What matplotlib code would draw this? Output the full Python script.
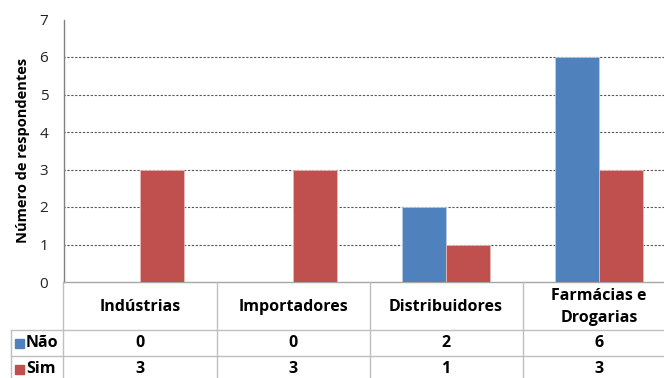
import matplotlib
matplotlib.use("Agg")
import matplotlib.pyplot as plt
import matplotlib.transforms as mtransforms
import numpy as np

categories = ["Indústrias", "Importadores", "Distribuidores", "Farmácias e\nDrogarias"]
nao = [0, 0, 2, 6]
sim = [3, 3, 1, 3]
series_names = ["Não", "Sim"]
colors = ["#4F81BD", "#C0504D"]
yticks = [0, 1, 2, 3, 4, 5, 6, 7]

W, H = 664, 378
fig = plt.figure(figsize=(W / 100, H / 100), dpi=100)
plt.rcParams['font.family'] = ['Open Sans', 'DejaVu Sans']

# axes in pixels
left_px, right_px = 63.5, 675.5
top_px, bottom_px = 19.5, 282
ax = fig.add_axes([left_px / W, (H - bottom_px) / H,
                   (right_px - left_px) / W, (bottom_px - top_px) / H])

x = np.arange(len(categories))
bw = 0.288
ax.bar(x - bw / 2, nao, width=bw, color=colors[0], edgecolor="#B9CDE5", linewidth=0.6, zorder=3)
ax.bar(x + bw / 2, sim, width=bw, color=colors[1], edgecolor="#E6B9B8", linewidth=0.6, zorder=3)

ax.set_xlim(-0.5, len(categories) - 0.5)
ax.set_ylim(0, 7)
ax.set_yticks(yticks)
ax.set_yticklabels([str(t) for t in yticks], fontsize=11, color="#222222")
ax.tick_params(axis='y', length=0, pad=11)
ax.set_xticks([])
ax.hlines(yticks[1:-1], -0.5, len(categories) - 0.5, colors="#555555",
          linestyles=(0, (2.0, 1.5)), linewidth=0.8, zorder=1)

for s in ["top", "right"]:
    ax.spines[s].set_visible(False)
ax.spines["left"].set_color("#808080")
ax.spines["bottom"].set_color("#A6A6A6")
ax.spines["left"].set_linewidth(1.0)
ax.spines["bottom"].set_linewidth(1.0)

ax.set_ylabel("Número de respondentes", fontsize=10.5, fontweight="bold", labelpad=7)

# data table below
trans = mtransforms.blended_transform_factory(ax.transData, fig.transFigure)
def fy(p):
    return (H - p) / H

line_col = "#BFBFBF"
row_lines = [330, 356]
for yp in row_lines:
    fig.add_artist(plt.Line2D([11 / W, 1], [fy(yp), fy(yp)], color=line_col, lw=1.0))
fig.add_artist(plt.Line2D([11 / W, 11 / W], [fy(330), 0], color=line_col, lw=1.0))
for b in np.arange(len(categories)) - 0.5:
    fig.add_artist(plt.Line2D([b, b], [fy(282), 0], color=line_col, lw=1.0, transform=trans))

fs = 11.5
for i, c in enumerate(categories):
    fig.text(x[i], fy(307), c, transform=trans, ha="center", va="center",
             fontsize=fs, fontweight="bold", linespacing=1.45)
    fig.text(x[i], fy(343), str(nao[i]), transform=trans, ha="center", va="center",
             fontsize=fs, fontweight="bold")
    fig.text(x[i], fy(369), str(sim[i]), transform=trans, ha="center", va="center",
             fontsize=fs, fontweight="bold")

for name, col, yc in zip(series_names, colors, [343, 369]):
    fig.add_artist(plt.Rectangle((15 / W, fy(yc + 4.5)), 9 / W, 9 / H, color=col,
                                 transform=fig.transFigure))
    fig.text(26 / W, fy(yc), name, ha="left", va="center", fontsize=fs, fontweight="bold")

fig.savefig("out.png", dpi=100)
